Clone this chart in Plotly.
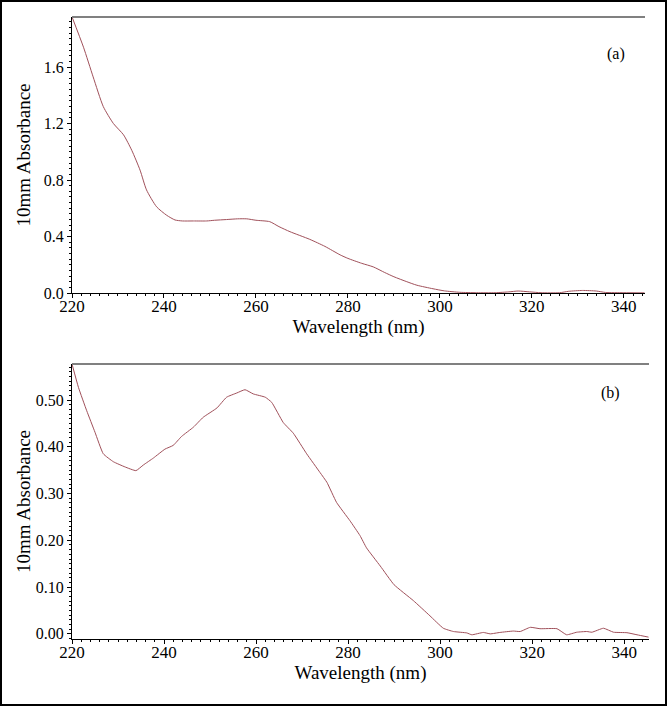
import plotly.graph_objects as go

# ---- data ----
wl_a = [220, 222.5, 224.6, 226.8, 229, 231.2, 233, 234.8, 236.2, 238.4, 240.6, 242.4, 244,
        246.4, 249.3, 251, 253.6, 256, 258, 260, 263, 265, 267.4, 271.7, 275, 278.3, 280,
        283, 285.5, 288, 290, 292.8, 295, 298.5, 301, 304.3, 308, 312, 315, 317, 319.5,
        322, 326, 328, 331, 334, 336, 340, 344.5]
abs_a = [1.955, 1.74, 1.53, 1.32, 1.20, 1.12, 1.01, 0.87, 0.73, 0.61, 0.55, 0.517, 0.51,
         0.51, 0.51, 0.515, 0.52, 0.525, 0.525, 0.515, 0.505, 0.47, 0.434, 0.38, 0.33, 0.27, 0.245,
         0.21, 0.185, 0.145, 0.115, 0.08, 0.055, 0.03, 0.015, 0.005, 0.002, 0.002, 0.008, 0.014, 0.008,
         0.002, 0.002, 0.012, 0.018, 0.014, 0.004, 0.002, 0.001]

wl_b = [220, 221.4, 223.2, 225, 226.8, 229, 231.5, 233.9, 235.5, 237.7, 240.2, 242, 243.8,
        246.4, 248.5, 251.5, 253.6, 255.8, 257.6, 259.4, 262, 263.4, 265.9, 268.1, 271,
        273.9, 275.4, 277.5, 280.4, 282.6, 284, 287, 290, 294.2, 297.8, 300.7, 302.9, 305.8,
        306.9, 309.4, 310.9, 313, 315.9, 317.4, 319.6, 321.7, 325.4, 327.5, 329.7, 331.9,
        333, 335.5, 337.7, 340.6, 342.8, 345.3]
abs_b = [0.577, 0.527, 0.477, 0.431, 0.385, 0.368, 0.357, 0.349, 0.361, 0.376, 0.395, 0.403,
         0.422, 0.442, 0.463, 0.483, 0.506, 0.515, 0.522, 0.513, 0.506, 0.495, 0.452, 0.429,
         0.385, 0.345, 0.324, 0.281, 0.242, 0.21, 0.184, 0.145, 0.105, 0.071, 0.0385, 0.012,
         0.005, 0.002, -0.002, 0.003, 0.0, 0.003, 0.006, 0.005, 0.014, 0.011, 0.011, -0.002,
         0.0035, 0.005, 0.0035, 0.012, 0.0035, 0.0025, -0.002, -0.007]

panel_labels = ["(a)", "(b)"]
x_title = "Wavelength (nm)"
y_title = "10mm Absorbance"

LINE = "#a0505a"
FONT = "Liberation Serif"

fig = go.Figure()
fig.add_trace(go.Scatter(x=wl_a, y=abs_a, mode="lines", line=dict(color=LINE, width=1, shape="spline", smoothing=0.6),
                         xaxis="x", yaxis="y", showlegend=False))
fig.add_trace(go.Scatter(x=wl_b, y=abs_b, mode="lines", line=dict(color=LINE, width=1, shape="spline", smoothing=0.4),
                         xaxis="x2", yaxis="y2", showlegend=False))

W, H = 667, 706
def px(v): return v / W
def py(v): return 1 - v / H

xcommon = dict(showline=True, linecolor="black", linewidth=1, ticks="outside", ticklen=4,
               tickcolor="black", tick0=220, dtick=20, showgrid=False, zeroline=False,
               automargin=False, ticklabelstandoff=-6,
               tickfont=dict(family=FONT, size=17, color="black"),
               minor=dict(dtick=2, ticks="outside", ticklen=2, tickcolor="black"),
               title=dict(text=x_title, font=dict(family=FONT, size=19, color="black"), standoff=2))
ycommon = dict(showline=True, linecolor="black", linewidth=1, ticks="outside", ticklen=4,
               tickcolor="black", showgrid=False, zeroline=False, automargin=False,
               tickfont=dict(family=FONT, size=16, color="black"))

fig.update_layout(
    width=W, height=H, margin=dict(l=0, r=0, t=0, b=0, autoexpand=False),
    paper_bgcolor="white", plot_bgcolor="white",
    xaxis=dict(domain=[px(72), px(645)], range=[220, 344.6], anchor="y", **xcommon),
    yaxis=dict(domain=[py(293), py(17)], range=[0, 1.954], anchor="x", tick0=0, dtick=0.4,
               tickformat=".1f", minor=dict(dtick=0.04, ticks="outside", ticklen=2, tickcolor="black"),
               title=dict(text=y_title, font=dict(family=FONT, size=19, color="black"), standoff=8),
               **ycommon),
    xaxis2=dict(domain=[px(72), px(649)], range=[220, 345.4], anchor="y2", **xcommon),
    yaxis2=dict(domain=[py(639), py(364)], range=[-0.011, 0.577], anchor="x2", tick0=0, dtick=0.1,
                tickformat=".2f", minor=dict(dtick=0.01, ticks="outside", ticklen=2, tickcolor="black"),
                title=dict(text=y_title, font=dict(family=FONT, size=19, color="black"), standoff=0),
                **ycommon),
)

# grey top frame lines and outer border
fig.add_shape(type="line", xref="paper", yref="paper", x0=px(72), x1=px(645), y0=py(17), y1=py(17),
              line=dict(color="#808080", width=2))
fig.add_shape(type="line", xref="paper", yref="paper", x0=px(72), x1=px(649), y0=py(364), y1=py(364),
              line=dict(color="#808080", width=2))
fig.add_shape(type="rect", xref="paper", yref="paper", x0=px(1), x1=px(666), y0=py(705), y1=py(1),
              line=dict(color="black", width=2))

fig.add_annotation(text=panel_labels[0], xref="paper", yref="paper", x=px(627), y=py(43),
                   showarrow=False, font=dict(family=FONT, size=16, color="black"))
fig.add_annotation(text=panel_labels[1], xref="paper", yref="paper", x=px(622), y=py(393),
                   showarrow=False, font=dict(family=FONT, size=16, color="black"))

fig.write_html("out.html", config={"displayModeBar": False},
               post_script="document.body.style.margin='0px';document.body.style.overflow='hidden';")
